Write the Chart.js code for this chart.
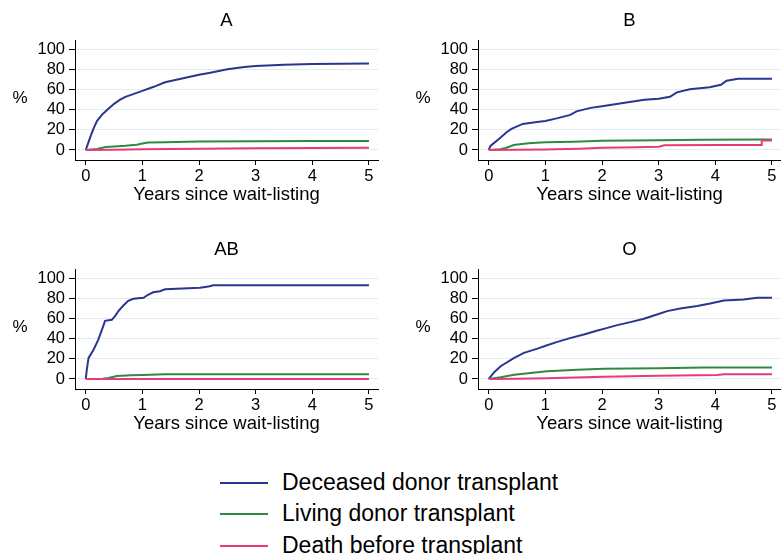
<!DOCTYPE html>
<html>
<head>
<meta charset="utf-8">
<script src="https://cdn.jsdelivr.net/npm/chart.js@4/dist/chart.umd.min.js"></script>
<style>
  body { margin: 0; background: #fff; width: 781px; height: 554px; overflow: hidden; position: relative; font-family: "Liberation Sans", Arial, sans-serif; }
  canvas { position: absolute; }
  .legline { position: absolute; left: 220px; width: 48px; height: 2px; }
  .legtext { position: absolute; left: 282px; font-size: 23px; line-height: 26px; color: #000; white-space: nowrap; }
</style>
</head>
<body>
<canvas id="chartA" width="390" height="215" style="left:0px;top:0px"></canvas>
<canvas id="chartB" width="391" height="215" style="left:390px;top:0px"></canvas>
<canvas id="chartAB" width="390" height="215" style="left:0px;top:229px"></canvas>
<canvas id="chartO" width="391" height="215" style="left:390px;top:229px"></canvas>
<div id="legend"></div>
<script>
// series labels and colours
var seriesLabels = ["Deceased donor transplant", "Living donor transplant", "Death before transplant"];
var seriesColors = ["#2b3590", "#2e8b3e", "#e8397a"];
var xTicks = [0, 1, 2, 3, 4, 5];
var yTicks = [0, 20, 40, 60, 80, 100];

// blood group A
var aDecX = [0, 0.05, 0.1, 0.15, 0.2, 0.3, 0.4, 0.5, 0.6, 0.7, 0.8, 0.9, 1.0, 1.2, 1.4, 1.6, 1.8, 2.0, 2.2, 2.5, 2.8, 3.0, 3.5, 4.0, 4.5, 5.0];
var aDecY = [0, 8, 16, 23, 29, 36, 41, 46, 50, 53, 55, 57, 59, 63, 67.5, 70, 72.5, 75, 77, 80.5, 82.8, 83.8, 85, 85.8, 86, 86.3];
var aLivX = [0, 0.2, 0.35, 0.5, 0.7, 0.9, 1.0, 1.1, 1.4, 2.0, 3.0, 4.0, 5.0];
var aLivY = [0, 1, 3, 3.5, 4.2, 5.2, 6.5, 7.5, 7.8, 8.4, 8.8, 8.9, 9];
var aDthX = [0, 0.5, 1, 2, 3, 4, 5];
var aDthY = [0, 0.3, 0.7, 1.3, 1.8, 2.0, 2.2];

// blood group B
var bDecX = [0, 0.03, 0.2, 0.32, 0.4, 0.6, 0.85, 1.0, 1.2, 1.44, 1.55, 1.8, 2.0, 2.4, 2.75, 3.0, 3.2, 3.32, 3.55, 3.9, 4.1, 4.2, 4.4, 5.0];
var bDecY = [0, 4, 12, 18, 21, 26, 28, 29, 31.5, 35, 38.5, 42, 43.5, 47, 50, 51, 53, 57.5, 60.5, 62.5, 65, 69, 71, 71];
var bLivX = [0, 0.2, 0.3, 0.44, 0.7, 1.0, 1.5, 2.0, 3.0, 3.75, 4.8, 5.0];
var bLivY = [0, 0.8, 2, 5, 6.7, 7.7, 8.3, 9.2, 9.7, 10.2, 10.5, 10.5];
var bDthX = [0, 0.5, 1.0, 1.6, 2.0, 2.6, 3.0, 3.1, 4.0, 4.5, 4.81, 4.82, 5.0];
var bDthY = [0, 0.3, 0.5, 1.3, 2.3, 2.8, 3.3, 4.7, 4.9, 5.0, 5.0, 9.5, 9.5];

// blood group AB
var abDecX = [0, 0.02, 0.05, 0.135, 0.22, 0.31, 0.34, 0.46, 0.52, 0.58, 0.66, 0.75, 0.84, 1.02, 1.1, 1.19, 1.31, 1.4, 2.02, 2.19, 2.25, 5.0];
var abDecY = [0, 10, 21, 29, 39, 53, 58, 59, 63, 68, 73, 78, 80, 81, 84, 86.5, 87.5, 89.5, 91, 92.5, 93.5, 93.5];
var abLivX = [0, 0.3, 0.4, 0.55, 0.8, 1.0, 1.4, 5.0];
var abLivY = [0, 0.3, 1, 3, 3.8, 4, 4.8, 4.8];
var abDthX = [0, 5];
var abDthY = [0, 0];

// blood group O
var oDecX = [0, 0.1, 0.21, 0.45, 0.62, 0.86, 1.03, 1.21, 1.45, 1.68, 1.92, 2.03, 2.27, 2.5, 2.74, 2.97, 3.15, 3.38, 3.68, 3.91, 4.15, 4.5, 4.74, 5.0];
var oDecY = [0, 7, 12.7, 21, 26, 30.3, 33.7, 37, 41, 44.3, 48.3, 50, 53.7, 56.7, 60, 64.3, 67.7, 70.3, 72.7, 75.3, 78.3, 79.3, 81, 81];
var oLivX = [0, 0.21, 0.45, 0.74, 1.03, 1.56, 2.03, 3.0, 3.8, 5.0];
var oLivY = [0, 1.7, 4.3, 6, 7.7, 9.3, 10.3, 10.7, 11.5, 11.5];
var oDthX = [0, 0.5, 1.03, 2.03, 3.0, 4.03, 4.15, 5.0];
var oDthY = [0, 0.3, 0.7, 2.3, 3.3, 4, 4.7, 4.7];

Chart.defaults.font.family = '"Liberation Sans", Arial, sans-serif';
Chart.defaults.color = "#000";

function pts(xs, ys) {
  return xs.map(function (x, i) {
    return { x: x, y: ys[i] };
  });
}

// "%" written horizontally left of the y axis
var pctLabel = {
  id: "pctLabel",
  afterDraw: function (chart) {
    var ctx = chart.ctx;
    ctx.save();
    ctx.font = '17px "Liberation Sans", Arial, sans-serif';
    ctx.fillStyle = "#000";
    ctx.textAlign = "center";
    ctx.textBaseline = "middle";
    ctx.fillText("%", chart.chartArea.left - 55, chart.scales.y.getPixelForValue(52));
    ctx.restore();
  },
};

function makePanel(id, title, series, yAxisWidth, padRight) {
  var ctx = document.getElementById(id).getContext("2d");
  var datasets = series.map(function (s, i) {
    return {
      label: seriesLabels[i],
      data: pts(s[0], s[1]),
      borderColor: seriesColors[i],
      backgroundColor: seriesColors[i],
      borderWidth: 2,
      pointRadius: 0,
      tension: 0,
      fill: false,
      order: 3 - i,
    };
  });
  return new Chart(ctx, {
    type: "line",
    data: { datasets: datasets },
    plugins: [pctLabel],
    options: {
      responsive: false,
      animation: false,
      layout: { padding: { left: 0, right: padRight, top: 0, bottom: 0 } },
      scales: {
        x: {
          type: "linear",
          min: -0.19,
          max: 5.16,
          afterBuildTicks: function (scale) {
            scale.ticks = xTicks.map(function (v) { return { value: v }; });
          },
          afterFit: function (scale) { scale.height = 55; },
          grid: { drawOnChartArea: false, tickLength: 5, tickColor: "#000", tickWidth: 1 },
          border: { display: true, color: "#000", width: 1 },
          ticks: { font: { size: 16.5 }, padding: 2, color: "#000" },
          title: {
            display: true,
            text: "Years since wait-listing",
            font: { size: 18.5 },
            color: "#000",
            padding: { top: 0, bottom: 9 },
          },
        },
        y: {
          type: "linear",
          min: -10,
          max: 109.5,
          afterBuildTicks: function (scale) {
            scale.ticks = yTicks.map(function (v) { return { value: v }; });
          },
          afterFit: function (scale) { scale.width = yAxisWidth; },
          grid: { color: "#e3ecef", lineWidth: 1, tickLength: 6, tickColor: "#000", tickWidth: 1 },
          border: { display: true, color: "#000", width: 1 },
          ticks: { font: { size: 16.5 }, padding: 4, color: "#000" },
        },
      },
      plugins: {
        legend: { display: false },
        tooltip: { enabled: false },
        title: {
          display: true,
          text: title,
          fullSize: false,
          color: "#000",
          font: { size: 18.5, weight: "normal" },
          padding: { top: 10, bottom: 8 },
        },
      },
    },
  });
}

makePanel("chartA", "A", [[aDecX, aDecY], [aLivX, aLivY], [aDthX, aDthY]], 75, 12);
makePanel("chartB", "B", [[bDecX, bDecY], [bLivX, bLivY], [bDthX, bDthY]], 88, 0);
makePanel("chartAB", "AB", [[abDecX, abDecY], [abLivX, abLivY], [abDthX, abDthY]], 75, 12);
makePanel("chartO", "O", [[oDecX, oDecY], [oLivX, oLivY], [oDthX, oDthY]], 88, 0);

// legend below the panels
var legendRows = [483, 514, 546];
var legend = document.getElementById("legend");
seriesLabels.forEach(function (label, i) {
  var line = document.createElement("div");
  line.className = "legline";
  line.style.top = legendRows[i] - 1 + "px";
  line.style.background = seriesColors[i];
  legend.appendChild(line);
  var text = document.createElement("div");
  text.className = "legtext";
  text.style.top = legendRows[i] - 14 + "px";
  text.textContent = label;
  legend.appendChild(text);
});
</script>
</body>
</html>
